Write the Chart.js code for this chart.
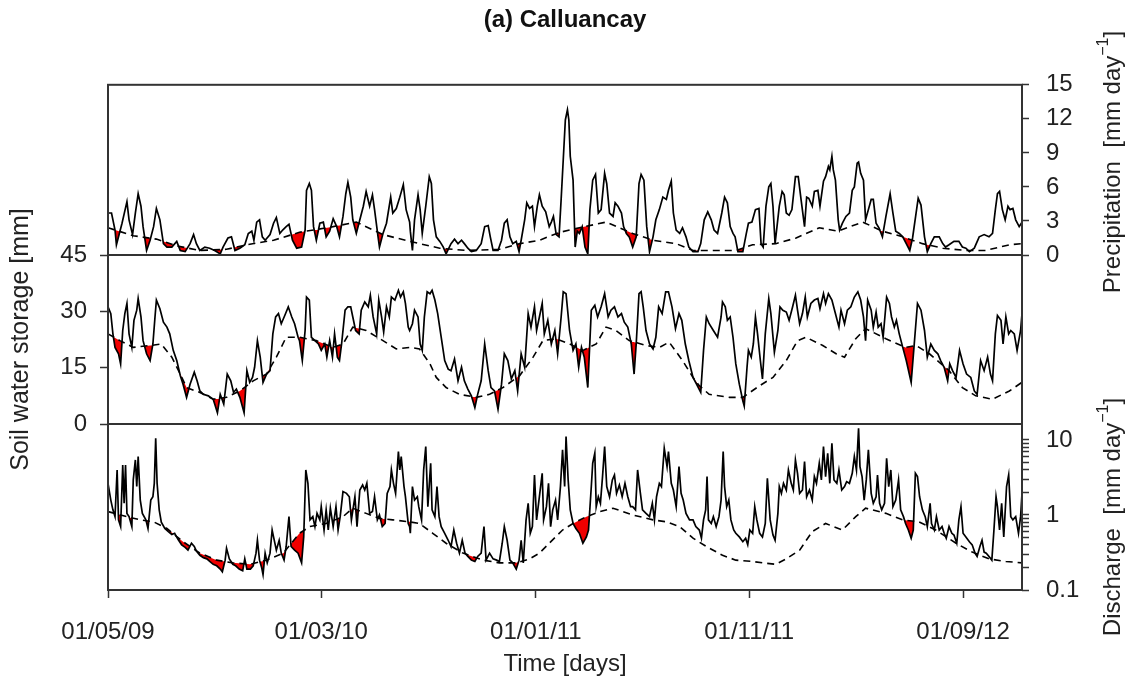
<!DOCTYPE html>
<html>
<head>
<meta charset="utf-8">
<script src="https://cdn.jsdelivr.net/npm/chart.js@4.4.1/dist/chart.umd.min.js"></script>
<style>
  html, body { margin: 0; padding: 0; background: #fff; }
  #wrap { position: relative; width: 1132px; height: 687px; }
  #wrap canvas { position: absolute; left: 0; top: 0; }
</style>
</head>
<body>
<div id="wrap">
  <canvas id="precipChart" width="1132" height="687"></canvas>
  <canvas id="soilChart" width="1132" height="687"></canvas>
  <canvas id="dischargeChart" width="1132" height="687"></canvas>
</div>
<script>
// Time axis: days since 01/05/09
const timeTickDays = [0, 304, 610, 914, 1219];
const timeTickLabels = ["01/05/09", "01/03/10", "01/01/11", "01/11/11", "01/09/12"];
const lastDay = 1303;

// Precipitation [mm/day], observed (solid) and reference (dashed): [day, value]
const precipObs = [
  [0,3.7],[5,3.7],[10,2.2],[12,0.9],[20,2.8],[27,4.7],[30,3.1],[35,1.8],[39,3.7],[43,5.4],[47,4.3],[50,2.5],[55,0.4],[60,1.3],[65,2.5],[69,4.1],[74,3.1],[79,1.0],[84,0.7],[91,0.7],[98,1.2],[103,0.4],[110,0.3],[117,1.0],[122,1.8],[126,1.0],[131,0.4],[138,0.7],[145,0.6],[152,0.4],[160,0.1],[164,0.7],[171,1.5],[176,1.6],[181,0.4],[188,0.6],[195,0.9],[200,1.9],[205,2.1],[208,1.3],[212,2.9],[216,3.1],[220,1.6],[224,1.3],[231,1.8],[236,2.8],[240,3.3],[245,1.9],[249,2.2],[254,2.5],[258,2.7],[263,1.3],[269,0.6],[276,0.7],[281,2.2],[283,5.7],[287,6.3],[290,5.7],[293,2.5],[297,1.3],[302,2.8],[307,2.9],[311,1.6],[316,2.1],[321,3.2],[326,2.5],[330,1.6],[335,3.4],[339,5.4],[342,6.4],[346,5.1],[349,3.1],[354,1.9],[359,3.1],[364,4.3],[368,5.6],[373,4.3],[377,5.3],[380,4.0],[385,1.6],[387,0.7],[392,1.9],[397,2.8],[403,5.1],[406,3.7],[411,4.1],[416,5.1],[421,6.2],[425,4.0],[430,2.9],
  [431,2.1],[434,0.4],[437,3.1],[442,5.3],[445,4.0],[448,1.9],[453,4.3],[458,6.9],[461,6.3],[464,3.1],[468,1.6],[473,1.2],[478,0.7],[482,0.1],[489,1.0],[494,1.4],[499,1.0],[504,1.3],[508,1.0],[513,0.6],[518,0.3],[525,0.4],[532,1.0],[537,2.5],[542,2.6],[545,1.6],[549,0.4],[556,0.4],[561,1.3],[565,2.8],[569,3.1],[573,1.6],[577,1.0],[582,1.2],[586,0.3],[589,1.3],[594,3.1],[597,4.6],[601,4.1],[605,4.3],[608,2.5],[612,4.3],[615,5.3],[619,4.3],[624,3.8],[629,2.5],[632,2.9],[635,3.4],[639,1.8],[643,1.6],[646,4.9],[649,8.4],[652,11.9],[655,12.8],[657,11.9],[659,8.7],[663,6.6],[666,0.7],[669,2.1],[672,1.9],[676,2.5],[680,0.7],[684,0.1],[687,4.0],[691,6.6],[695,7.1],[699,3.7],[703,4.0],[708,7.2],[711,6.3],[715,3.7],[720,3.4],[723,4.6],[727,4.3],[732,3.7],[735,2.5],[739,1.9],[743,1.6],[748,0.7],[753,1.6],[757,6.3],[760,7.1],[764,6.6],[768,2.5],[772,0.3],[777,1.6],[781,3.1],[786,4.0],[791,5.1],[796,4.9],[799,5.7],[803,6.5],[806,3.7],[810,2.2],[815,1.9],[819,2.4],[824,1.6],[828,0.7],[834,0.3],[841,0.3],[845,1.0],[850,3.1],[855,3.8],[860,3.1],[864,2.2],[869,1.9],
  [875,3.7],[879,5.1],[883,4.6],[887,2.5],[891,1.9],[894,1.6],[898,0.3],[905,0.3],[910,1.9],[913,2.8],[918,2.9],[923,4.0],[928,4.1],[931,1.0],[934,0.7],[938,4.3],[942,6.0],[945,6.3],[948,4.3],[951,1.0],[957,4.3],[961,5.6],[964,5.3],[967,3.7],[971,3.5],[975,4.0],[980,6.9],[984,6.9],[988,4.9],[993,2.5],[996,5.1],[999,5.0],[1004,4.3],[1007,5.6],[1012,5.7],[1015,4.3],[1020,6.5],[1023,6.9],[1027,7.8],[1029,7.5],[1032,8.7],[1034,7.5],[1037,6.6],[1041,3.1],[1043,2.2],[1047,2.8],[1052,3.4],[1057,3.7],[1061,5.7],[1064,6.0],[1068,8.1],[1070,8.2],[1073,7.2],[1077,6.6],[1080,3.1],[1084,4.0],[1088,4.9],[1091,4.9],[1095,2.8],[1099,2.4],[1104,1.6],[1109,3.4],[1115,5.4],[1119,3.7],[1123,2.1],[1128,1.9],[1133,1.6],[1138,1.0],[1143,0.4],[1147,1.5],[1152,3.7],[1155,5.0],[1159,4.4],[1164,1.6],[1168,0.3],[1173,1.0],[1178,1.6],[1185,1.6],[1190,1.0],[1194,0.7],[1199,0.9],[1206,1.2],[1213,1.2],[1218,0.7],[1223,0.6],[1228,0.3],[1235,0.6],[1242,1.6],[1249,1.8],[1256,1.6],[1261,1.9],[1265,4.0],[1268,5.4],[1271,5.6],[1275,4.0],[1279,3.1],[1283,4.3],[1286,4.0],[1290,4.1],[1294,3.1],[1299,2.5],[1303,2.9]
];
const precipRef = [
  [0,2.4],[36,1.7],[69,1.4],[98,0.8],[131,0.4],[169,0.5],[197,0.9],[236,1.3],[273,2.0],[321,2.5],[354,2.9],[392,1.8],[430,1.2],[473,0.6],[511,0.4],[558,0.5],[587,1.0],[615,1.3],[644,2.0],[672,2.4],[710,2.9],[748,1.9],[777,1.3],[810,1.0],[834,0.4],[872,0.4],[895,0.4],[919,0.9],[952,1.0],[981,1.5],[1014,2.4],[1040,2.1],[1076,2.9],[1104,2.1],[1133,1.6],[1161,1.0],[1190,0.6],[1223,0.4],[1251,0.4],[1285,0.9],[1303,1.0]
];

// Soil water storage [mm]
const soilObs = [
  [0,31.2],[4,29.4],[7,24.0],[10,20.4],[15,18.7],[18,16.0],[21,24.9],[24,29.4],[27,32.1],[30,24.0],[34,20.4],[37,27.6],[41,30.3],[43,33.4],[47,28.5],[50,22.2],[55,18.7],[60,16.9],[64,21.3],[67,28.5],[69,33.0],[74,30.7],[79,27.1],[84,25.8],[88,24.0],[93,19.6],[98,16.9],[103,12.9],[107,10.6],[112,7.1],[117,10.6],[123,13.8],[127,11.5],[131,8.8],[136,7.9],[143,7.5],[150,6.6],[156,3.0],[160,7.9],[165,5.3],[170,13.3],[175,11.5],[179,8.4],[183,9.3],[188,7.1],[194,3.0],[198,14.2],[202,11.1],[206,12.4],[209,15.1],[213,22.2],[217,17.8],[221,11.1],[226,13.3],[231,14.2],[235,24.0],[239,28.5],[243,29.4],[247,26.7],[252,28.9],[257,31.2],[262,28.5],[266,26.7],[271,23.1],[273,22.2],[277,16.9],[281,24.9],[283,33.8],[287,33.0],[290,23.1],[295,22.2],[300,21.3],[304,19.6],[309,21.3],[312,17.8],[316,22.2],[320,17.8],[323,24.0],[327,17.8],[330,16.9],[333,21.3],[338,30.3],[342,31.2],[346,31.2],[349,28.5],[353,24.9],[358,24.0],[361,30.3],[366,32.5],[371,31.2],[374,34.3],[378,28.5],[383,24.0],[386,33.0],[390,28.5],[393,24.5],[397,31.2],[401,28.5],[404,33.8],[409,33.0],[414,35.6],[417,33.8],[421,35.2],[424,32.1],[428,25.8],[430,24.9],
  [434,26.7],[437,30.3],[442,28.5],[445,21.3],[448,19.6],[451,28.5],[455,35.2],[459,34.7],[462,35.6],[466,33.0],[470,29.4],[475,23.1],[480,16.9],[485,14.6],[489,14.2],[494,17.3],[499,11.5],[504,15.1],[508,11.5],[513,9.3],[518,7.5],[523,4.4],[527,7.9],[532,11.5],[537,21.3],[542,14.2],[546,9.7],[551,8.8],[556,3.9],[561,10.6],[565,18.7],[570,16.9],[575,12.0],[580,14.2],[584,8.8],[589,18.7],[594,15.1],[599,29.4],[603,25.8],[608,31.2],[611,24.9],[615,28.5],[619,32.1],[622,24.0],[627,27.6],[632,21.3],[637,24.9],[641,18.7],[646,28.5],[649,35.2],[653,34.7],[658,24.9],[663,19.6],[667,21.3],[671,15.1],[675,20.4],[679,17.8],[684,9.7],[689,30.3],[694,31.6],[698,28.5],[703,31.2],[708,34.7],[713,28.5],[717,30.3],[722,31.2],[727,28.5],[732,29.4],[736,27.1],[741,25.8],[746,21.3],[750,13.3],[753,21.3],[757,34.7],[760,35.2],[763,31.2],[767,24.9],[772,21.3],[777,20.0],[781,23.1],[785,31.2],[790,29.4],[795,35.2],[799,35.2],[804,31.2],[809,25.4],[814,29.4],[818,27.6],[823,21.3],[828,16.9],[834,12.4],[839,10.6],[845,8.4],[849,19.6],[853,28.5],[857,26.7],[863,24.9],[869,23.1],
  [874,28.5],[876,32.5],[880,31.2],[883,27.6],[887,28.5],[891,23.1],[895,16.0],[900,10.6],[905,6.2],[907,4.8],[911,15.1],[913,19.6],[917,17.8],[920,21.3],[923,28.5],[926,24.0],[930,16.9],[933,12.0],[937,24.0],[942,33.4],[945,29.4],[950,19.1],[955,24.9],[958,31.2],[962,30.3],[967,29.8],[971,27.6],[976,31.2],[980,34.3],[983,30.3],[986,26.7],[990,29.4],[994,33.8],[997,28.5],[1002,32.1],[1007,33.0],[1012,33.4],[1015,30.7],[1020,34.7],[1023,32.1],[1027,34.7],[1032,33.0],[1037,29.4],[1042,25.8],[1045,30.3],[1050,26.7],[1054,30.3],[1059,31.2],[1064,33.8],[1069,35.2],[1073,33.0],[1077,28.5],[1080,22.2],[1083,33.0],[1088,30.3],[1091,25.8],[1095,29.8],[1098,25.8],[1102,26.7],[1105,23.1],[1110,33.8],[1114,32.1],[1117,28.5],[1121,25.8],[1124,27.6],[1128,24.0],[1133,20.4],[1138,16.9],[1145,11.1],[1149,20.4],[1154,32.1],[1159,30.3],[1164,24.9],[1168,17.8],[1173,21.3],[1178,19.6],[1183,18.7],[1187,16.9],[1192,15.1],[1197,11.5],[1200,16.0],[1204,14.2],[1209,12.4],[1214,19.6],[1219,16.0],[1224,13.3],[1230,12.4],[1235,8.8],[1239,7.9],[1244,16.9],[1249,14.2],[1254,17.8],[1258,13.3],[1261,11.5],[1265,24.0],[1268,28.9],[1273,27.6],[1276,21.3],[1280,28.5],[1284,24.0],[1287,24.9],[1292,24.0],[1296,19.6],[1301,24.9],[1303,29.4]
];
const soilRef = [
  [0,24.0],[17,22.2],[36,20.4],[60,20.9],[76,21.3],[91,17.8],[103,13.3],[112,9.7],[131,8.4],[150,6.6],[169,7.1],[188,8.8],[207,11.5],[226,13.3],[240,17.8],[254,23.1],[273,23.1],[297,22.2],[321,20.4],[335,21.3],[349,25.8],[368,24.9],[392,22.2],[411,20.0],[430,20.4],[444,20.0],[459,16.0],[468,12.4],[482,9.7],[501,7.9],[525,7.1],[544,7.9],[563,9.7],[587,12.9],[606,17.8],[620,22.2],[639,22.7],[658,21.3],[677,19.6],[696,21.3],[710,25.8],[724,24.9],[743,22.2],[767,20.9],[786,20.4],[800,21.8],[819,16.9],[834,12.4],[843,10.2],[857,7.9],[886,7.1],[905,7.1],[929,10.2],[948,12.4],[967,16.9],[983,22.2],[995,23.1],[1019,20.9],[1038,18.7],[1050,17.8],[1066,22.7],[1080,25.4],[1109,22.7],[1137,20.4],[1152,20.9],[1171,18.7],[1199,14.2],[1218,9.7],[1237,7.5],[1261,6.6],[1285,8.8],[1303,11.1]
];

// Discharge [mm/day]
const dischargeObs = [
  [0,2.64],[4,1.58],[7,1.17],[10,0.95],[13,3.98],[15,0.86],[18,0.70],[21,4.64],[23,1.43],[25,4.64],[27,1.05],[30,0.95],[34,0.70],[36,2.93],[39,5.41],[41,2.39],[43,6.0],[46,1.58],[49,1.05],[54,0.86],[57,0.66],[61,1.58],[64,1.75],[66,2.64],[68,10.5],[70,2.64],[73,1.17],[76,0.80],[81,0.66],[86,0.60],[91,0.55],[95,0.57],[100,0.47],[105,0.40],[110,0.37],[114,0.34],[119,0.42],[123,0.38],[126,0.33],[131,0.29],[136,0.27],[141,0.26],[145,0.24],[150,0.22],[155,0.21],[160,0.19],[163,0.175],[167,0.25],[169,0.36],[173,0.26],[178,0.22],[182,0.21],[187,0.19],[192,0.18],[195,0.26],[198,0.19],[203,0.19],[207,0.21],[211,0.31],[213,0.46],[216,0.25],[219,0.20],[221,0.16],[224,0.31],[227,0.23],[231,0.31],[234,0.63],[236,0.51],[240,0.34],[244,0.46],[247,0.31],[251,0.25],[254,0.38],[258,0.95],[261,0.38],[266,0.34],[271,0.31],[276,0.23],[279,0.51],[282,3.98],[285,2.64],[288,0.86],[292,0.95],[295,0.70],[298,1.05],[302,0.86],[304,1.29],[308,0.63],[311,1.17],[314,0.63],[317,1.23],[321,0.70],[325,1.29],[328,0.63],[331,0.95],[335,2.05],[340,1.94],[344,1.75],[347,0.86],[352,1.75],[355,0.70],[359,2.15],[363,2.51],[366,2.15],[369,2.64],[373,1.05],[377,1.11],[380,1.75],[384,0.86],[387,1.0],[391,0.70],[395,0.77],[398,1.94],[402,2.39],[404,3.98],[407,2.64],[410,1.94],[414,7.0],[416,3.98],[418,6.0],[422,2.39],[424,1.75],[428,0.77],[430,0.70],
  [431,0.57],[434,2.39],[437,1.58],[441,1.75],[443,1.29],[447,0.86],[450,3.98],[453,8.15],[456,1.29],[460,4.89],[462,1.17],[466,0.95],[469,2.39],[472,0.95],[475,0.70],[480,0.57],[485,0.46],[489,0.38],[493,0.63],[497,0.42],[501,0.31],[505,0.46],[509,0.31],[513,0.28],[518,0.25],[523,0.24],[527,0.28],[532,0.31],[536,0.70],[539,0.25],[544,0.31],[549,0.26],[554,0.25],[558,0.24],[562,0.42],[565,0.70],[569,0.46],[573,0.25],[577,0.23],[582,0.19],[586,0.25],[589,0.46],[592,0.23],[596,0.86],[599,1.43],[602,0.57],[605,0.70],[608,3.41],[611,0.86],[615,1.75],[619,3.59],[621,0.86],[625,1.29],[628,2.64],[631,0.70],[634,1.17],[638,1.58],[641,0.86],[645,2.39],[648,7.36],[651,2.39],[653,11.1],[656,2.93],[659,1.17],[663,0.77],[667,0.66],[672,0.57],[677,0.42],[682,0.51],[685,0.63],[689,2.39],[691,4.89],[694,6.64],[696,1.29],[699,1.75],[702,1.43],[705,3.24],[708,8.15],[711,2.39],[715,1.75],[719,2.93],[722,3.41],[725,1.94],[729,2.51],[733,1.75],[737,2.64],[741,1.75],[745,1.29],[748,1.29],[752,1.17],[755,3.98],[759,1.94],[762,1.17],[767,1.05],[772,0.95],[776,1.43],[779,0.86],[782,1.75],[786,2.64],[789,2.39],[793,7.74],[797,4.41],[799,7.0],[803,2.64],[806,2.15],[810,1.29],[814,4.41],[817,1.94],[820,1.58],[824,1.05],[829,0.86],[834,0.86],[838,0.70],[843,0.63],[846,0.49],[849,0.86],[852,1.17],[854,3.24],[856,0.86],[860,0.77],[863,0.95],[867,0.70],[871,0.95],
  [874,1.58],[877,7.0],[879,2.39],[882,1.29],[885,1.58],[888,0.86],[892,0.63],[895,0.57],[900,0.51],[905,0.44],[909,0.49],[912,0.40],[915,0.63],[919,0.57],[922,1.29],[925,0.86],[929,0.57],[933,0.51],[937,0.77],[940,3.08],[944,0.86],[948,0.54],[951,0.46],[955,1.05],[957,2.39],[960,1.94],[963,2.64],[967,2.15],[970,3.98],[974,2.64],[977,2.15],[980,5.41],[983,3.59],[986,1.94],[990,2.15],[993,5.14],[996,1.75],[1000,2.15],[1004,1.58],[1007,3.24],[1010,2.64],[1014,4.89],[1017,2.93],[1020,8.15],[1023,3.24],[1026,6.64],[1029,2.64],[1032,9.03],[1035,2.93],[1039,2.64],[1042,3.98],[1046,2.15],[1050,2.39],[1053,2.78],[1057,2.64],[1061,3.59],[1064,6.0],[1067,3.98],[1070,14.3],[1072,4.41],[1075,3.24],[1078,1.58],[1081,2.93],[1084,7.36],[1088,1.94],[1091,1.43],[1095,1.75],[1097,3.41],[1100,1.43],[1103,1.17],[1107,1.43],[1110,5.7],[1113,2.39],[1116,3.98],[1119,1.29],[1123,1.58],[1127,2.93],[1130,1.17],[1134,0.95],[1137,0.77],[1141,0.63],[1145,0.49],[1148,0.63],[1151,3.59],[1154,3.24],[1157,1.75],[1161,1.17],[1165,0.95],[1168,0.70],[1172,1.43],[1174,0.77],[1178,0.63],[1181,0.95],[1185,0.63],[1189,0.70],[1192,0.57],[1195,0.49],[1199,0.70],[1203,0.57],[1206,0.54],[1210,0.42],[1213,0.86],[1216,1.29],[1219,0.57],[1223,0.51],[1228,0.44],[1232,0.40],[1236,0.31],[1239,0.28],[1243,0.38],[1246,0.46],[1249,0.32],[1252,0.31],[1256,0.28],[1260,0.25],[1263,0.63],[1266,1.75],[1268,1.29],[1271,0.63],[1274,1.43],[1277,0.51],[1281,2.39],[1284,3.41],[1287,0.95],[1290,0.86],[1294,0.95],[1298,0.57],[1301,0.95],[1303,1.94]
];
const dischargeRef = [
  [0,1.11],[27,0.95],[46,0.86],[65,0.81],[84,0.66],[107,0.44],[131,0.31],[155,0.25],[178,0.23],[202,0.22],[226,0.25],[250,0.31],[273,0.57],[288,0.70],[311,0.77],[335,0.95],[349,1.23],[368,1.05],[387,0.90],[406,0.86],[430,0.81],[444,0.77],[463,0.57],[482,0.42],[506,0.31],[535,0.25],[558,0.23],[582,0.23],[601,0.26],[615,0.31],[629,0.42],[648,0.63],[663,0.77],[682,0.95],[701,1.11],[720,1.23],[748,1.0],[777,0.86],[796,0.81],[815,0.70],[834,0.49],[853,0.38],[876,0.29],[895,0.25],[919,0.24],[933,0.23],[952,0.22],[967,0.26],[986,0.34],[1004,0.60],[1023,0.77],[1047,0.63],[1066,0.95],[1080,1.23],[1109,1.05],[1133,0.86],[1156,0.81],[1180,0.63],[1209,0.42],[1232,0.32],[1256,0.26],[1280,0.24],[1303,0.23]
];

// Axis ticks
const precipRange = [0, 15];
const precipStep = 3;
const soilRange = [0, 45];
const soilStep = 15;
const dischargeRange = [0.1, 16.3];
const dischargeTicks = [0.1,0.2,0.3,0.4,0.5,0.6,0.7,0.8,0.9,1,2,3,4,5,6,7,8,9,10];
const dischargeTickLabels = [0.1, 1, 10];

const FONT = "'Liberation Sans', Arial, Helvetica, sans-serif";
const INK = "#222";
Chart.defaults.font.family = FONT;
Chart.defaults.font.size = 24;
Chart.defaults.color = INK;

function pts(arr) {
  return arr.map(([x, y]) => ({ x, y }));
}

// dashed reference line fills red wherever it lies above the solid one
function panelData(obs, ref) {
  return {
    datasets: [
      {
        data: pts(obs),
        borderColor: "#000",
        borderWidth: 1.7,
        pointRadius: 0,
        tension: 0,
        fill: false,
      },
      {
        data: pts(ref),
        borderColor: "#000",
        borderWidth: 1.6,
        borderDash: [7, 5],
        pointRadius: 0,
        tension: 0,
        fill: { target: 0, above: "#f00000", below: "rgba(0,0,0,0)" },
      },
    ],
  };
}

// box around each panel
const panelFrame = {
  id: "panelFrame",
  afterDatasetsDraw(chart) {
    const { ctx, chartArea: a } = chart;
    ctx.save();
    ctx.strokeStyle = "#333";
    ctx.lineWidth = 2;
    ctx.strokeRect(a.left, a.top, a.right - a.left, a.bottom - a.top);
    ctx.restore();
  },
};

// rotated right-hand axis title with "day^-1"
function sideTitle(name, cx, cy) {
  return {
    id: "sideTitle",
    afterDraw(chart) {
      const ctx = chart.ctx;
      const a = name + "  [mm day";
      const sup = "\u22121";
      const b = "]";
      ctx.save();
      ctx.translate(cx, cy);
      ctx.rotate(-Math.PI / 2);
      ctx.fillStyle = INK;
      ctx.textBaseline = "middle";
      ctx.font = "24px " + FONT;
      const wa = ctx.measureText(a).width;
      const wb = ctx.measureText(b).width;
      ctx.font = "16px " + FONT;
      const ws = ctx.measureText(sup).width;
      let x = -(wa + ws + wb) / 2;
      ctx.font = "24px " + FONT;
      ctx.fillText(a, x, 0);
      x += wa;
      ctx.font = "16px " + FONT;
      ctx.fillText(sup, x, -9);
      x += ws;
      ctx.font = "24px " + FONT;
      ctx.fillText(b, x, 0);
      ctx.restore();
    },
  };
}

const baseOptions = {
  responsive: false,
  animation: false,
  devicePixelRatio: 1,
  events: [],
};

const basePlugins = {
  legend: { display: false },
  tooltip: { enabled: false },
  filler: { drawTime: "beforeDatasetsDraw" },
};

const tickGrid = { drawOnChartArea: false, tickLength: 7, tickColor: "#333", tickWidth: 1.5 };

// Precipitation panel
new Chart(document.getElementById("precipChart"), {
  type: "line",
  data: panelData(precipObs, precipRef),
  options: {
    ...baseOptions,
    layout: { padding: { left: 108, right: 0, top: 6, bottom: 687 - 255 } },
    plugins: {
      ...basePlugins,
      title: {
        display: true,
        fullSize: false,
        text: "(a) Calluancay",
        color: "#111",
        font: { size: 24, weight: "bold" },
        padding: { top: 0, bottom: 50 },
      },
    },
    scales: {
      x: { type: "linear", min: 0, max: lastDay, display: false },
      y: {
        type: "linear",
        position: "right",
        min: precipRange[0],
        max: precipRange[1],
        afterFit: (s) => { s.width = 110; },
        ticks: { stepSize: precipStep, padding: 17, autoSkip: false },
        grid: tickGrid,
        border: { display: false },
      },
    },
  },
  plugins: [panelFrame, sideTitle("Precipitation", 1113, 162)],
});

// Soil water storage panel
new Chart(document.getElementById("soilChart"), {
  type: "line",
  data: panelData(soilObs, soilRef),
  options: {
    ...baseOptions,
    layout: { padding: { left: 0, right: 110, top: 255, bottom: 687 - 424 } },
    plugins: basePlugins,
    scales: {
      x: { type: "linear", min: 0, max: lastDay, display: false },
      y: {
        type: "linear",
        position: "left",
        min: soilRange[0],
        max: soilRange[1],
        afterFit: (s) => { s.width = 108; },
        ticks: { stepSize: soilStep, padding: 13, autoSkip: false },
        grid: { ...tickGrid, tickLength: 8 },
        border: { display: false },
        title: {
          display: true,
          text: "Soil water storage [mm]",
          font: { size: 25 },
          padding: { top: 6, bottom: 0 },
        },
      },
    },
  },
  plugins: [panelFrame],
});

// Discharge panel
new Chart(document.getElementById("dischargeChart"), {
  type: "line",
  data: panelData(dischargeObs, dischargeRef),
  options: {
    ...baseOptions,
    layout: { padding: { left: 108, right: 0, top: 424, bottom: 0 } },
    plugins: basePlugins,
    scales: {
      x: {
        type: "linear",
        min: 0,
        max: lastDay,
        afterFit: (s) => { s.height = 97; },
        afterBuildTicks: (s) => { s.ticks = timeTickDays.map((v) => ({ value: v })); },
        ticks: {
          autoSkip: false,
          maxRotation: 0,
          padding: 20,
          callback: (v) => timeTickLabels[timeTickDays.indexOf(v)] ?? "",
        },
        grid: { ...tickGrid, tickLength: 8 },
        border: { display: false },
        title: {
          display: true,
          text: "Time [days]",
          font: { size: 24 },
          padding: { top: 0, bottom: 8 },
        },
      },
      y: {
        type: "logarithmic",
        position: "right",
        min: dischargeRange[0],
        max: dischargeRange[1],
        afterFit: (s) => { s.width = 110; },
        afterBuildTicks: (s) => { s.ticks = dischargeTicks.map((v) => ({ value: v })); },
        ticks: {
          autoSkip: false,
          padding: 17,
          callback: (v) => {
            const hit = dischargeTickLabels.find((t) => Math.abs(t - v) < 1e-9);
            return hit === undefined ? "" : String(hit);
          },
        },
        grid: tickGrid,
        border: { display: false },
      },
    },
  },
  plugins: [panelFrame, sideTitle("Discharge", 1113, 517)],
});
</script>
</body>
</html>
